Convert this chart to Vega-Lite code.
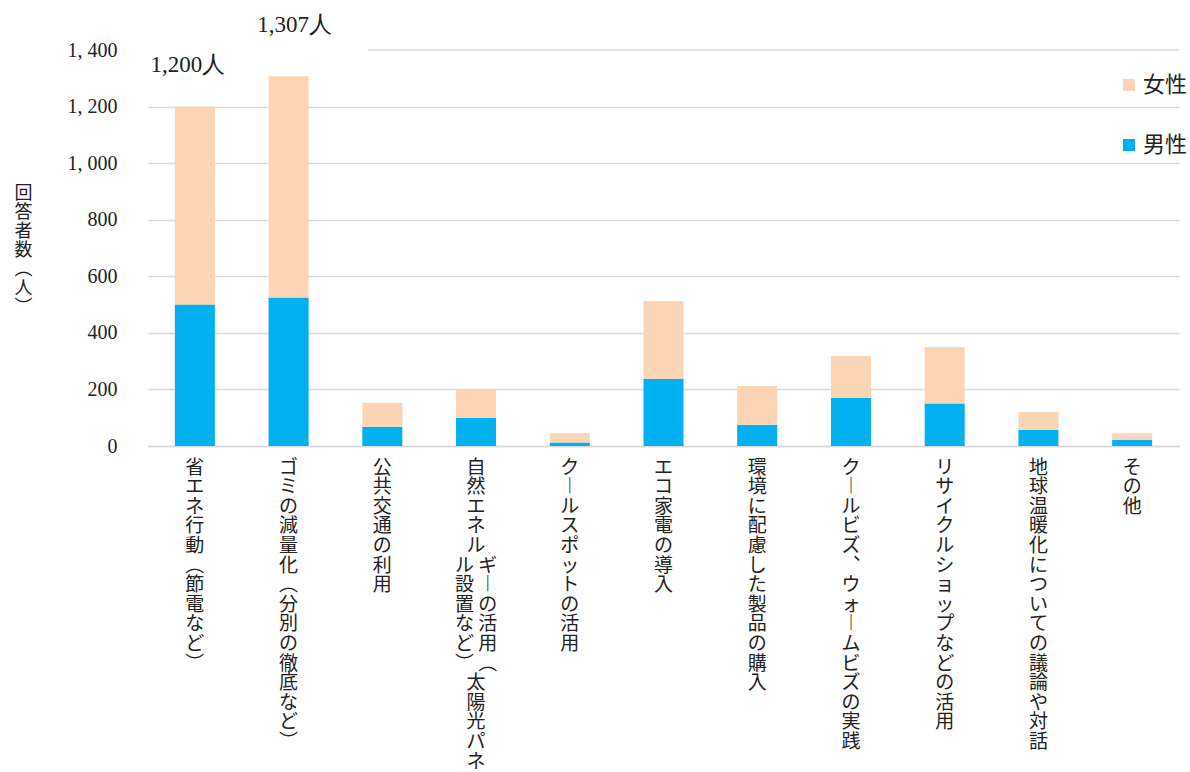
{
  "$schema": "https://vega.github.io/schema/vega-lite/v6.json",
  "width": 1031,
  "height": 396,
  "autosize": {"type": "none"},
  "padding": {"left": 148, "top": 50, "right": 11, "bottom": 326},
  "background": "white",
  "config": {"view": {"stroke": null}, "font": "Noto Sans CJK JP"},
  "data": {
    "values": [
      {"category": "省エネ行動（節電など）", "sex": "男性", "count": 500},
      {"category": "省エネ行動（節電など）", "sex": "女性", "count": 700},
      {"category": "ゴミの減量化（分別の徹底など）", "sex": "男性", "count": 525},
      {"category": "ゴミの減量化（分別の徹底など）", "sex": "女性", "count": 782},
      {"category": "公共交通の利用", "sex": "男性", "count": 68},
      {"category": "公共交通の利用", "sex": "女性", "count": 85},
      {"category": "自然エネルギーの活用（太陽光パネル設置など）", "sex": "男性", "count": 100},
      {"category": "自然エネルギーの活用（太陽光パネル設置など）", "sex": "女性", "count": 98},
      {"category": "クールスポットの活用", "sex": "男性", "count": 12},
      {"category": "クールスポットの活用", "sex": "女性", "count": 34},
      {"category": "エコ家電の導入", "sex": "男性", "count": 237},
      {"category": "エコ家電の導入", "sex": "女性", "count": 275},
      {"category": "環境に配慮した製品の購入", "sex": "男性", "count": 75},
      {"category": "環境に配慮した製品の購入", "sex": "女性", "count": 137},
      {"category": "クールビズ、ウォームビズの実践", "sex": "男性", "count": 171},
      {"category": "クールビズ、ウォームビズの実践", "sex": "女性", "count": 147},
      {"category": "リサイクルショップなどの活用", "sex": "男性", "count": 150},
      {"category": "リサイクルショップなどの活用", "sex": "女性", "count": 200},
      {"category": "地球温暖化についての議論や対話", "sex": "男性", "count": 57},
      {"category": "地球温暖化についての議論や対話", "sex": "女性", "count": 63},
      {"category": "その他", "sex": "男性", "count": 22},
      {"category": "その他", "sex": "女性", "count": 23}
    ]
  },
  "layer": [
    {
      "mark": {"type": "bar"},
      "encoding": {
        "x": {
          "field": "category",
          "type": "nominal",
          "sort": null,
          "scale": {"paddingInner": 0.573, "paddingOuter": 0.2865},
          "axis": {
            "title": null,
            "ticks": false,
            "domain": true,
            "domainColor": "#d9d9d9",
            "domainWidth": 1.5,
            "labelAngle": 0,
            "labelAlign": "center",
            "labelBaseline": "top",
            "labelPadding": 12,
            "labelFont": "Noto Sans CJK JP",
            "labelFontSize": 19,
            "labelLineHeight": 19.6,
            "labelColor": "#222222",
            "labelOverlap": false,
            "labelLimit": 0,
            "labelExpr": "datum.value == '自然エネルギーの活用（太陽光パネル設置など）' ? ['　 自','　 然','　 エ','　 ネ','　 ル','ル ギ','設 ︱','置 の','な 活','ど 用','︶ ︵','　 太','　 陽','　 光','　 パ','　 ネ'] : split(replace(replace(replace(replace(datum.value, regexp('ー','g'), '︱'), regexp('（','g'), '︵'), regexp('）','g'), '︶'), regexp('、','g'), '︑'), '')"
          }
        },
        "y": {
          "field": "count",
          "type": "quantitative",
          "stack": "zero",
          "scale": {"domain": [0, 1400], "nice": false},
          "axis": {
            "values": [0, 200, 400, 600, 800, 1000, 1200, 1400],
            "ticks": false,
            "domain": false,
            "grid": true,
            "gridColor": "#d9d9d9",
            "gridWidth": 1.5,
            "gridOpacity": {"condition": {"test": "datum.value === 1400", "value": 0}, "value": 1},
            "labelFont": "Liberation Serif",
            "labelFontSize": 20,
            "labelColor": "#222222",
            "labelPadding": 31,
            "labelExpr": "replace(format(datum.value, ','), ',', ',  ')",
            "title": ["回", "答", "者", "数", "︵", "人", "︶"],
            "titleAngle": 0,
            "titleX": -125,
            "titleY": 134,
            "titleAlign": "center",
            "titleBaseline": "top",
            "titleFont": "Noto Sans CJK JP",
            "titleFontSize": 18,
            "titleFontWeight": "normal",
            "titleLineHeight": 19,
            "titleColor": "#222222"
          }
        },
        "color": {
          "field": "sex",
          "type": "nominal",
          "scale": {"domain": ["女性", "男性"], "range": ["#FBD5B5", "#00B0F0"]},
          "legend": {
            "title": null,
            "orient": "none",
            "legendX": 970,
            "legendY": 24,
            "direction": "vertical",
            "symbolType": "square",
            "symbolSize": 144,
            "symbolStrokeWidth": 0,
            "labelFont": "Noto Sans CJK JP",
            "labelFontSize": 22,
            "labelColor": "#222222",
            "labelOffset": 3,
            "rowPadding": 38
          }
        },
        "order": {"field": "sex", "sort": "descending"}
      }
    },
    {
      "data": {"values": [{"v": 1400}]},
      "mark": {"type": "rule", "color": "#d9d9d9", "strokeWidth": 1.5},
      "encoding": {
        "y": {"field": "v", "type": "quantitative"},
        "x": {"datum": "公共交通の利用", "bandPosition": 0.14},
        "x2": {"value": "width"}
      }
    },
    {
      "transform": [
        {"aggregate": [{"op": "sum", "field": "count", "as": "total"}], "groupby": ["category"]},
        {"filter": "datum.category === '省エネ行動（節電など）'"},
        {"calculate": "format(datum.total, ',') + '人'", "as": "label"}
      ],
      "mark": {"type": "text", "font": "Liberation Serif", "fontSize": 23, "color": "#222222", "baseline": "middle", "align": "center", "dx": -7, "dy": -42},
      "encoding": {
        "x": {"field": "category", "type": "nominal", "sort": null},
        "y": {"field": "total", "type": "quantitative"},
        "text": {"field": "label"}
      }
    },
    {
      "transform": [
        {"aggregate": [{"op": "sum", "field": "count", "as": "total"}], "groupby": ["category"]},
        {"filter": "datum.category === 'ゴミの減量化（分別の徹底など）'"},
        {"calculate": "format(datum.total, ',') + '人'", "as": "label"}
      ],
      "mark": {"type": "text", "font": "Liberation Serif", "fontSize": 23, "color": "#222222", "baseline": "middle", "align": "center", "dx": 6, "dy": -51},
      "encoding": {
        "x": {"field": "category", "type": "nominal", "sort": null},
        "y": {"field": "total", "type": "quantitative"},
        "text": {"field": "label"}
      }
    }
  ]
}
